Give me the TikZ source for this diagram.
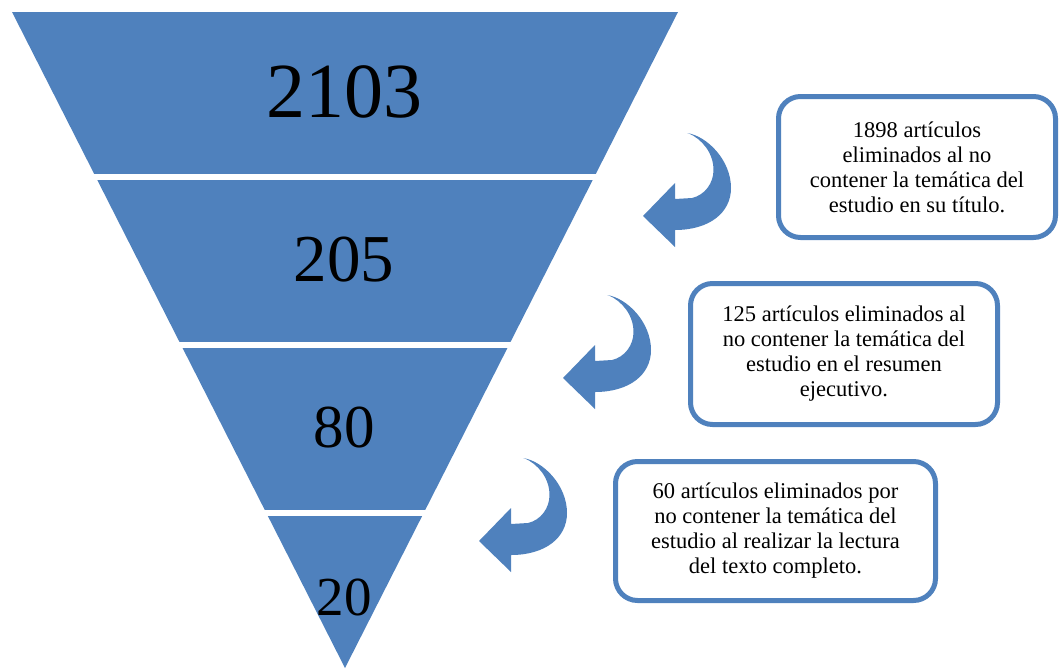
\documentclass[tikz,border=0pt]{standalone}
\usepackage{fontspec}
\setmainfont{Liberation Serif}
\usetikzlibrary{positioning}
\definecolor{funnelblue}{HTML}{4F81BD}
\tikzset {
    x=1pt, y=-1pt,
    numtext/.style={inner sep=0pt},
    infobox/.style={draw=funnelblue, line width=5pt, fill=white, rounded corners=22pt,
        align=center, font=\fontsize{22.5}{25}\selectfont},
    gap/.style={white, line width=6pt},
    curvarrow/.pic={
        \fill[funnelblue] (0,0) .. controls (20,3) and (44,27) .. (44,55)
            .. controls (44,80) and (22,97) .. (-12,97)
            -- (-12,114) -- (-44,83) -- (-12,50) -- (-12,66) -- (5,65)
            .. controls (18,62) and (26.5,50) .. (26.5,37)
            .. controls (26.5,20) and (15,6) .. (1,0) -- cycle;
    }
}

\begin{document}
\begin{tikzpicture}
    \useasboundingbox (0,0) rectangle (1060,670);

    % funnel
    \fill[funnelblue] (12,12) -- (678,12) -- (345,668) -- cycle;
    \draw[gap] (0,177) -- (700,177);
    \draw[gap] (0,345) -- (700,345);
    \draw[gap] (0,513) -- (700,513);

    \node[numtext, font=\fontsize{78}{78}\selectfont] (n1) at (344,92) {2103};
    \node[numtext, font=\fontsize{67}{67}\selectfont] (n2) at (344,260) {205};
    \node[numtext, font=\fontsize{61}{61}\selectfont] (n3) at (344,428) {80};
    \node[numtext, font=\fontsize{55}{55}\selectfont] (n4) at (344,597) {20};

    % boxes
    \node[infobox, minimum width=277pt, minimum height=141pt] (b1) at (917,167)
        {1898 artículos\\eliminados al no\\contener la temática del\\estudio en su título.};
    \node[infobox, minimum width=307pt, minimum height=141pt] (b2) at (844,354)
        {125 artículos eliminados al\\no contener la temática del\\estudio en el resumen\\ejecutivo.};
    \node[infobox, minimum width=320pt, minimum height=139pt] (b3) at (775.5,531)
        {60 artículos eliminados por\\no contener la temática del\\estudio al realizar la lectura\\del texto completo.};

    % arrows
    \pic at (687,133) {curvarrow};
    \pic at (607,295) {curvarrow};
    \pic at (523,458) {curvarrow};
\end{tikzpicture}
\end{document}
